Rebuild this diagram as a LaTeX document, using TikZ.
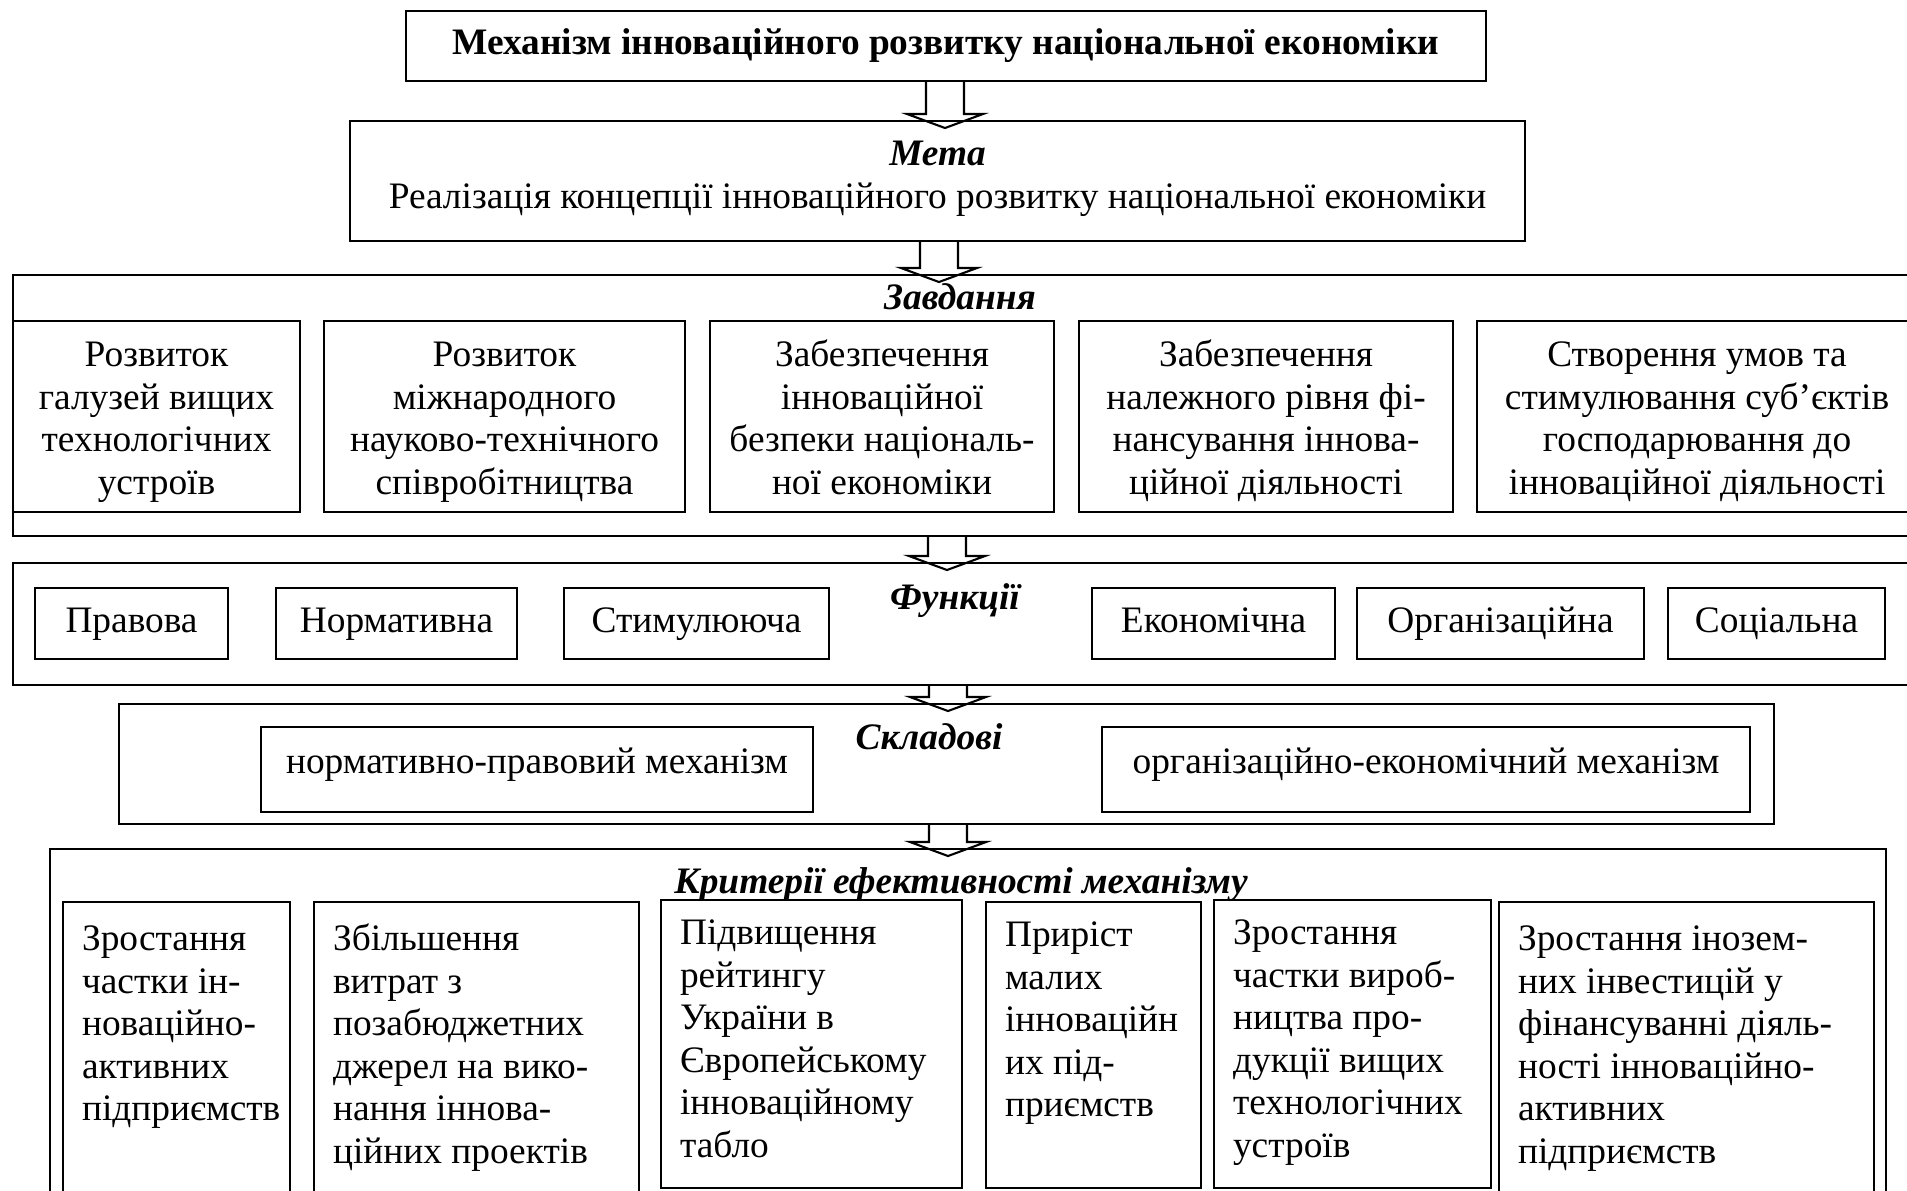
\documentclass[tikz,border=0pt]{standalone}
\usepackage{fontspec}
\setmainfont{Liberation Serif}
\usetikzlibrary{calc}
\newlength{\unitpx}
\setlength{\unitpx}{0.384pt}
\newcommand{\diagfont}{\fontsize{14.35pt}{16.3pt}\selectfont}
\newcommand{\toprule}{\rule{0pt}{15.6pt}}
\tikzset{
    panel/.style={rectangle, draw=black, line width=0.8pt, anchor=north west, inner sep=0pt},
    itembox/.style={rectangle, draw=black, line width=0.8pt, anchor=north west, inner sep=2pt, align=center,
        execute at begin node={\strut}, execute at end node={\strut}},
    taskbox/.style={itembox, inner ysep=0pt, minimum height=191\unitpx},
    critbox/.style={rectangle, draw=black, line width=0.8pt, anchor=north west, inner xsep=19\unitpx, inner ysep=19\unitpx},
    heading/.style={font=\diagfont\bfseries\itshape, anchor=base},
    blockarrow/.style={draw=black, line width=0.8pt, line join=miter}
}
\newcommand{\hollowarrow}[3]{%
    \coordinate (axis) at (#3,0);
    \draw[blockarrow] ($(axis |- #1.south)+(-19,0)$) -- ($(axis |- #2.north)+(-19,-6)$)
        -- ($(axis |- #2.north)+(-38,-6)$) -- ($(axis |- #2.north)+(0,8)$)
        -- ($(axis |- #2.north)+(38,-6)$) -- ($(axis |- #2.north)+(19,-6)$)
        -- ($(axis |- #1.south)+(19,0)$);}
\newcommand{\crittext}[3]{\parbox[t][#1\unitpx][t]{#2\unitpx}{\raggedright\strut #3}}

\begin{document}
\begin{tikzpicture}[x=0.384pt, y=-0.384pt, font=\diagfont]
    \useasboundingbox (0,0) rectangle (1907,1190);
    \clip (0,0) rectangle (1907,1190);

    \node (title) [itembox, font=\diagfont\bfseries, minimum width=1080\unitpx, minimum height=70\unitpx] at (405,10) {Механізм інноваційного розвитку національної економіки};
    \node (meta) [itembox, minimum width=1175\unitpx, minimum height=120\unitpx] at (349,120) {\textbf{\textit{Мета}}\\Реалізація концепції інноваційного розвитку національної економіки};

    \node (tasks) [panel, minimum width=1920\unitpx, minimum height=261\unitpx] at (12,274) {};
    \node (taskslbl) [heading] at (960,309) {Завдання};
    \node (t1) [taskbox, minimum width=287\unitpx] at (12,320) {\toprule Розвиток\\галузей вищих\\технологічних\\устроїв};
    \node (t2) [taskbox, minimum width=361\unitpx] at (323,320) {\toprule Розвиток\\міжнародного\\науково-технічного\\співробітництва};
    \node (t3) [taskbox, minimum width=344\unitpx] at (709,320) {\toprule Забезпечення\\інноваційної\\безпеки національ-\\ної економіки};
    \node (t4) [taskbox, minimum width=374\unitpx] at (1078,320) {\toprule Забезпечення\\належного рівня фі-\\нансування іннова-\\ційної діяльності};
    \node (t5) [taskbox, minimum width=440\unitpx] at (1476,320) {\toprule Створення умов та\\стимулювання суб’єктів\\господарювання до\\інноваційної діяльності};

    \node (funcs) [panel, minimum width=1920\unitpx, minimum height=122\unitpx] at (12,562) {};
    \node (funcslbl) [heading] at (955,609) {Функції};
    \node (f1) [itembox, minimum width=193\unitpx, minimum height=71\unitpx] at (34,587) {Правова};
    \node (f2) [itembox, minimum width=241\unitpx, minimum height=71\unitpx] at (275,587) {Нормативна};
    \node (f3) [itembox, minimum width=265\unitpx, minimum height=71\unitpx] at (563,587) {Стимулююча};
    \node (f4) [itembox, minimum width=243\unitpx, minimum height=71\unitpx] at (1091,587) {Економічна};
    \node (f5) [itembox, minimum width=287\unitpx, minimum height=71\unitpx] at (1356,587) {Організаційна};
    \node (f6) [itembox, minimum width=217\unitpx, minimum height=71\unitpx] at (1667,587) {Соціальна};

    \node (parts) [panel, minimum width=1655\unitpx, minimum height=120\unitpx] at (118,703) {};
    \node (partslbl) [heading] at (929,749) {Складові};
    \node (p1) [itembox, minimum width=552\unitpx, minimum height=85\unitpx, text depth=8pt] at (260,726) {нормативно-правовий механізм};
    \node (p2) [itembox, minimum width=648\unitpx, minimum height=85\unitpx, text depth=8pt] at (1101,726) {організаційно-економічний механізм};

    \node (crit) [panel, minimum width=1836\unitpx, minimum height=400\unitpx] at (49,848) {};
    \node (critlbl) [heading] at (961,893) {Критерії ефективності механізму};
    \node (k1) [critbox] at (62,901) {\crittext{330}{189}{Зростання\\частки ін-\\новаційно-\\активних\\підприємств}};
    \node (k2) [critbox] at (313,901) {\crittext{330}{287}{Збільшення\\витрат з\\позабюджетних\\джерел на вико-\\нання іннова-\\ційних проектів}};
    \node (k3) [critbox, inner ysep=15\unitpx] at (660,899) {\crittext{258}{263}{Підвищення\\рейтингу\\України в\\Європейському\\інноваційному\\табло}};
    \node (k4) [critbox, inner ysep=15\unitpx] at (985,901) {\crittext{256}{177}{Приріст\\малих\\інноваційн\\их під-\\приємств}};
    \node (k5) [critbox, inner ysep=15\unitpx] at (1213,899) {\crittext{258}{239}{Зростання\\частки вироб-\\ництва про-\\дукції вищих\\технологічних\\устроїв}};
    \node (k6) [critbox] at (1498,901) {\crittext{330}{337}{Зростання інозем-\\них інвестицій у\\фінансуванні діяль-\\ності інноваційно-\\активних\\підприємств}};

    \hollowarrow{title}{meta}{945}
    \hollowarrow{meta}{tasks}{939}
    \hollowarrow{tasks}{funcs}{947}
    \hollowarrow{funcs}{parts}{948}
    \hollowarrow{parts}{crit}{948}
\end{tikzpicture}
\end{document}
